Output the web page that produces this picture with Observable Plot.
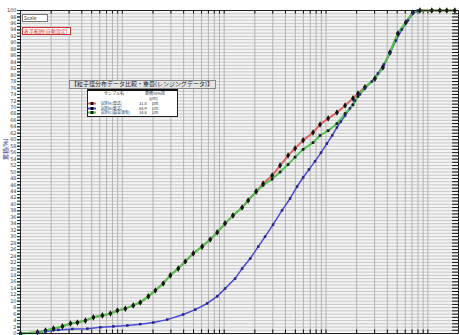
<!DOCTYPE html>
<html>
<head>
<meta charset="utf-8">
<script src="https://cdn.jsdelivr.net/npm/d3@7"></script>
<script src="https://cdn.jsdelivr.net/npm/@observablehq/plot@0.6"></script>
<style>
  html, body { margin: 0; padding: 0; background: #fff; }
  #wrap { position: relative; width: 459px; height: 335px; overflow: hidden; font-family: "Noto Sans CJK JP", "DejaVu Sans", sans-serif; }
  #wrap svg { position: absolute; left: 0; top: 0; }
  .ov { position: absolute; white-space: nowrap; line-height: 1; }
</style>
</head>
<body>
<div id="wrap"></div>
<script>
// ---- data ----
const sizesRed = [0.1, 0.147, 0.176, 0.211, 0.258, 0.309, 0.362, 0.434, 0.52, 0.637, 0.763, 0.893, 1.07, 1.28, 1.5, 1.8, 2.11, 2.52, 2.96, 3.54, 4.15, 4.97, 6.08, 7.29, 8.54, 10.2, 12.2, 15.0, 17.2, 20.6, 24.1, 29.6, 35.4, 42.4, 49.7, 59.6, 74.6, 87.4, 105, 128, 154, 184, 206, 241, 302, 362, 424, 508, 608, 713, 835, 1094, 1312, 1535, 1841];
const cumRed   = [0, 0.4, 0.9, 1.5, 2.2, 3.1, 3.4, 4.0, 5.0, 5.6, 6.2, 7.1, 7.7, 8.7, 9.6, 11.5, 13.3, 15.5, 18.0, 20.1, 22.3, 24.8, 26.9, 29.1, 31.3, 34.1, 36.5, 39.0, 41.2, 44.0, 46.4, 48.9, 52.0, 55.1, 57.3, 59.8, 62.2, 64.7, 66.6, 68.4, 70.6, 72.8, 74.3, 76.2, 78.9, 82.4, 87.0, 92.9, 96.3, 99.4, 100, 100, 100, 100, 100];
const sizesGreen = sizesRed;
const cumGreen = [0, 0.4, 0.9, 1.5, 2.2, 3.1, 3.4, 4.0, 5.0, 5.6, 6.2, 7.1, 7.7, 8.7, 9.6, 11.5, 13.3, 15.5, 18.0, 20.1, 22.3, 24.8, 26.9, 29.1, 31.3, 34.1, 36.5, 39.0, 41.2, 43.8, 45.9, 47.8, 50.0, 52.3, 54.6, 57.0, 59.1, 61.3, 62.8, 65.0, 68.1, 70.8, 73.4, 76.2, 78.9, 82.4, 87.0, 92.9, 96.3, 99.4, 100, 100, 100, 100, 100];
const sizesBlue = [0.1, 0.147, 0.176, 0.236, 0.323, 0.454, 0.609, 0.816, 1.12, 1.5, 2.01, 2.76, 3.96, 5.2, 6.81, 8.54, 10.2, 12.8, 15.0, 18.0, 21.6, 25.2, 30.2, 37.0, 44.4, 52.0, 59.6, 68.1, 78.0, 89.3, 102, 115, 128, 140, 154, 172, 192, 215, 241, 282, 323, 370, 424, 486, 556, 637, 713, 798];
const cumBlue   = [0, 0.3, 0.6, 1.1, 1.4, 1.5, 1.9, 2.2, 2.5, 2.9, 3.4, 4.3, 5.9, 7.4, 9.3, 11.5, 13.9, 17.0, 20.1, 23.2, 26.9, 30.0, 33.7, 38.1, 41.8, 45.5, 48.3, 50.8, 53.3, 56.0, 58.8, 61.3, 63.8, 65.6, 67.5, 69.7, 72.1, 74.0, 75.9, 78.0, 80.5, 83.3, 86.7, 90.7, 94.1, 96.9, 99.1, 100];

const yLabels = d3.range(0, 101, 2);
const yMinor = d3.range(0, 101, 1);
const decades = [0.1, 1, 10, 100, 1000];
const xGrid = decades.flatMap(d => [1,2,3,4,5,6,7,8,9].map(k => d * k)).filter(v => v <= 2000).concat([2000]);

const legendTitle = "【粒子径分布データ比較・重畳(レンジングデータ)】";
const legendHead = ["サンプル名", "累積50%径"];
const legendUnitHead = "(µm)";
const legendNames = ["試料A(湿式)", "試料B(乾式)", "試料C(超音波有)"];
const legendD50 = ["31.8", "64.9", "34.6"];
const legendColors = ["#e06464", "#4a4ad8", "#4cc84c"];
const boxLabel1 = "Scale";
const boxLabel2 = "表示範囲(自動設定)";
const yTitle = "累積(%)";

const rows = (xs, ys) => xs.map((x, i) => ({x, y: ys[i]}));
const red = rows(sizesRed, cumRed);
const green = rows(sizesGreen, cumGreen);
const blue = rows(sizesBlue, cumBlue);

const chart = Plot.plot({
  width: 459, height: 335,
  marginLeft: 20, marginRight: 1, marginTop: 10, marginBottom: 2,
  style: {background: "white", fontFamily: "DejaVu Sans", fontSize: "5px", color: "#333"},
  x: {type: "log", domain: [0.1, 2000], axis: null},
  y: {domain: [0, 100], label: null},
  marks: [
    Plot.frame({fill: "#f3f3f3", stroke: "none"}),
    Plot.gridY(yMinor, {stroke: "#c8c8c8", strokeOpacity: 1, strokeWidth: 1}),
    Plot.gridX(xGrid, {stroke: "#b4b4b4", strokeOpacity: 1, strokeWidth: 1}),
    Plot.axisY(yMinor, {tickSize: 3, tickFormat: () => "", stroke: "#111", label: null}),
    Plot.axisY(yLabels, {tickSize: 3, tickPadding: 1, fontSize: 5, tickFormat: d => String(d), fill: "#444", label: null}),
    Plot.ruleX(xGrid, {y1: 0, y2: 1.1, stroke: "#111"}),
    Plot.ruleX(xGrid, {y1: 98.9, y2: 100, stroke: "#111"}),
    Plot.ruleY(yMinor, {x1: 1750, x2: 2000, stroke: "#111"}),
    Plot.line(red, {x: "x", y: "y", stroke: legendColors[0], strokeWidth: 2}),
    Plot.line(blue, {x: "x", y: "y", stroke: legendColors[1], strokeWidth: 1.5}),
    Plot.line(green, {x: "x", y: "y", stroke: legendColors[2], strokeWidth: 2}),
    Plot.dot(red, {x: "x", y: "y", symbol: "diamond", r: 2, fill: "#111", stroke: "none"}),
    Plot.dot(green, {x: "x", y: "y", symbol: "square", r: 1.5, fill: "#1a1a1a", stroke: "none"}),
    Plot.dot(blue, {x: "x", y: "y", symbol: "square", r: 1.4, fill: "#24247a", stroke: "none"}),
    Plot.frame({stroke: "#222", strokeWidth: 1})
  ]
});

const wrap = document.getElementById("wrap");
wrap.appendChild(chart);

function ov(html, css) {
  const d = document.createElement("div");
  d.className = "ov";
  d.innerHTML = html;
  Object.assign(d.style, css);
  wrap.appendChild(d);
  return d;
}

// top-left boxes
ov(boxLabel1, {left: "22px", top: "14px", width: "22px", height: "6px", fontSize: "5px", border: "1px solid #777", background: "#fff", color: "#333", padding: "0 1px"});
ov(boxLabel2, {left: "22px", top: "27px", width: "45px", height: "6px", fontSize: "5px", border: "1px solid #d03030", background: "#fff", color: "#d02020", padding: "0 1px"});

// y title
ov(yTitle, {left: "3px", top: "160px", fontSize: "6px", color: "#2a3a8a", transform: "rotate(-90deg)", transformOrigin: "left top"});

// legend title bar
ov(legendTitle, {left: "69px", top: "80px", width: "143px", height: "7px", fontSize: "6px", border: "1px solid #888", background: "#e4e4e4", color: "#222", padding: "0 1px", overflow: "hidden"});

// legend table
ov("", {left: "87px", top: "89px", width: "89px", height: "25px", background: "#fff", border: "1px solid #222", borderTop: "2px solid #111"});
ov(legendHead[0], {left: "104px", top: "91px", fontSize: "4px", color: "#333"});
ov(legendHead[1], {left: "145px", top: "91px", fontSize: "4px", color: "#333"});
ov(legendUnitHead, {left: "149px", top: "96px", fontSize: "4px", color: "#333"});
legendNames.forEach((name, i) => {
  const y = 101 + i * 4.5;
  ov(`<svg width="8" height="5" style="display:block"><line x1="0" y1="2.5" x2="8" y2="2.5" stroke="${legendColors[i]}" stroke-width="2"/><rect x="2.5" y="1" width="3" height="3" fill="#111"/></svg>`, {left: "88px", top: y + "px"});
  ov(name, {left: "101px", top: y + "px", fontSize: "4px", color: "#333"});
  ov(legendD50[i], {left: "139px", top: y + "px", fontSize: "4px", color: "#333"});
  ov("µm", {left: "152px", top: y + "px", fontSize: "4px", color: "#333"});
});
</script>
</body>
</html>
